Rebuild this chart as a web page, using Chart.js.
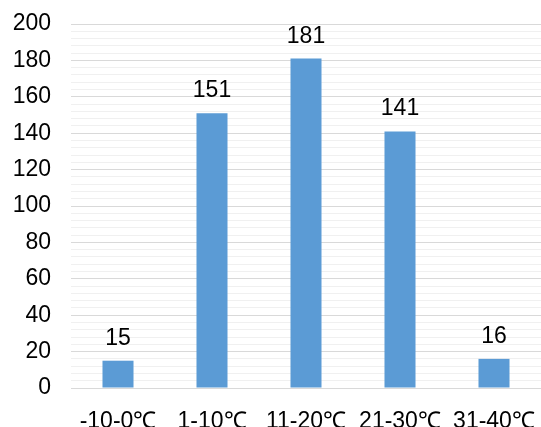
<!DOCTYPE html>
<html>
<head>
<meta charset="utf-8">
<script src="https://cdn.jsdelivr.net/npm/chart.js@4/dist/chart.umd.min.js"></script>
<style>
  html, body { margin: 0; padding: 0; background: #fff; }
  #wrap { width: 541px; height: 427px; }
</style>
</head>
<body>
<div id="wrap"><canvas id="tempChart"></canvas></div>
<script>
const categories = ['-10-0℃', '1-10℃', '11-20℃', '21-30℃', '31-40℃'];
const counts = [15, 151, 181, 141, 16];
const yTicks = [0, 20, 40, 60, 80, 100, 120, 140, 160, 180, 200];

const labelFont = '"Liberation Sans", Arial, sans-serif';

// draws the number above each bar
const barValueLabels = {
    id: 'barValueLabels',
    afterDatasetsDraw(chart) {
        const ctx = chart.ctx;
        const meta = chart.getDatasetMeta(0);
        ctx.save();
        ctx.font = '23px ' + labelFont;
        ctx.fillStyle = '#000';
        ctx.textAlign = 'center';
        ctx.textBaseline = 'alphabetic';
        meta.data.forEach((bar, i) => {
            ctx.fillText(String(counts[i]), bar.x, bar.y - 16);
        });
        ctx.restore();
    }
};

const tempCtx = document.getElementById('tempChart');

new Chart(tempCtx, {
    type: 'bar',
    data: {
        labels: categories,
        datasets: [{
            data: counts,
            backgroundColor: '#5b9bd5',
            borderWidth: 0,
            barPercentage: 0.33,
            categoryPercentage: 1.0
        }]
    },
    options: {
        responsive: true,
        maintainAspectRatio: false,
        animation: false,
        layout: {
            padding: { top: 24, left: 0, right: 0, bottom: 0 }
        },
        plugins: {
            legend: { display: false },
            tooltip: { enabled: false }
        },
        scales: {
            x: {
                grid: { display: false },
                border: { display: false },
                afterFit: (scale) => {
                    scale.height = 39;
                    scale.paddingLeft = 0;
                    scale.paddingRight = 0;
                },
                ticks: {
                    color: '#000',
                    padding: 12,
                    maxRotation: 0,
                    font: { family: labelFont, size: 23 }
                }
            },
            y: {
                min: yTicks[0],
                max: yTicks[yTicks.length - 1],
                border: { display: false },
                afterFit: (scale) => {
                    scale.width = 71;
                    scale.paddingTop = 0;
                    scale.paddingBottom = 0;
                },
                grid: {
                    drawTicks: false,
                    color: (c) => (c.tick && yTicks.includes(c.tick.value)) ? '#d9d9d9' : '#f0f0f0',
                    lineWidth: 1
                },
                ticks: {
                    stepSize: 4,
                    autoSkip: false,
                    padding: 20,
                    color: '#000',
                    font: { family: labelFont, size: 23 },
                    callback: (v) => yTicks.includes(v) ? v : ''
                }
            }
        }
    },
    plugins: [barValueLabels]
});
</script>
</body>
</html>
